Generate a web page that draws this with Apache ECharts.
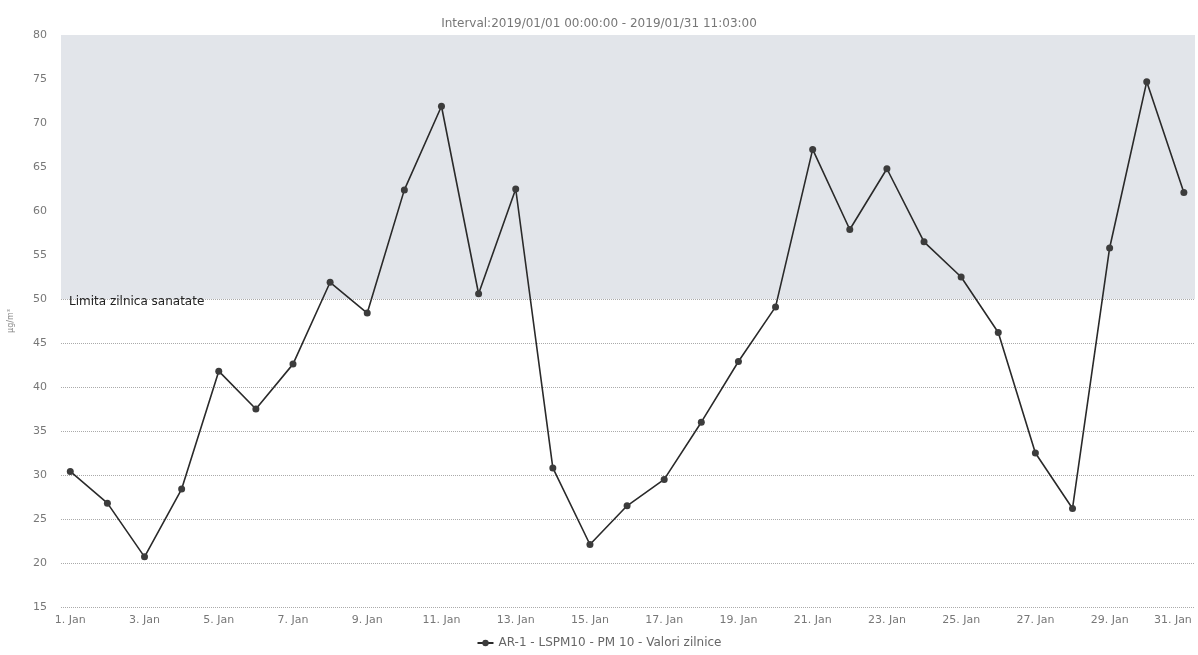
<!DOCTYPE html>
<html>
<head>
<meta charset="utf-8">
<script src="https://cdn.jsdelivr.net/npm/echarts@6/dist/echarts.min.js"></script>
<style>html,body{margin:0;padding:0;background:#fff}#c{width:1198px;height:655px}</style>
</head>
<body>
<div id="c"></div>
<script>
const days = [1,2,3,4,5,6,7,8,9,10,11,12,13,14,15,16,17,18,19,20,21,22,23,24,25,26,27,28,29,30,31];
const values = [30.4,26.8,20.7,28.4,41.8,37.5,42.6,51.9,48.4,62.4,71.9,50.6,62.5,30.8,22.1,26.5,29.5,36.0,42.9,49.1,67.0,57.9,64.8,56.5,52.5,46.2,32.5,26.2,55.8,74.7,62.1];
const tickDays = [1,3,5,7,9,11,13,15,17,19,21,23,25,27,29,31];
const monthLabel = 'Jan';
const limitLow = 50, limitHigh = 80;
const titleText = 'Interval:2019/01/01 00:00:00 - 2019/01/31 11:03:00';
const seriesName = 'AR-1 - LSPM10 - PM 10 - Valori zilnice';
const limitLabel = 'Limita zilnica sanatate';
const unitLabel = 'µg/m³';

const chart = echarts.init(document.getElementById('c'));
chart.setOption({
  backgroundColor: '#ffffff',
  animation: false,
  textStyle: { fontFamily: 'DejaVu Sans, sans-serif' },
  title: {
    text: titleText, left: 'center', top: 13,
    textStyle: { fontSize: 12, fontWeight: 'normal', color: '#777', fontFamily: 'DejaVu Sans' }
  },
  legend: {
    bottom: 1, left: 'center', itemWidth: 16, itemHeight: 8,
    textStyle: { fontSize: 12, color: '#666', fontFamily: 'DejaVu Sans' },
    data: [seriesName]
  },
  grid: { left: 61, right: 3, top: 35, bottom: 48, outerBoundsMode: 'none', containLabel: false },
  xAxis: {
    type: 'value', min: 0.75, max: 31.3,
    axisLine: { show: false }, axisTick: { show: false },
    splitLine: { show: false },
    axisLabel: {
      customValues: tickDays, fontSize: 11, color: '#777', margin: 8, fontFamily: 'DejaVu Sans',
      formatter: v => v === tickDays[tickDays.length - 1]
        ? '{last|' + v + '. ' + monthLabel + '}'
        : v + '. ' + monthLabel,
      rich: { last: { fontSize: 11, color: '#777', fontFamily: 'DejaVu Sans', padding: [0, 22, 0, 0] } }
    }
  },
  yAxis: {
    type: 'value', min: 15, max: 80, interval: 5,
    name: unitLabel, nameLocation: 'middle', nameGap: 46, nameRotate: 90,
    nameTextStyle: { fontSize: 8, color: '#888' },
    axisLine: { show: false }, axisTick: { show: false },
    axisLabel: { fontSize: 11, color: '#777', margin: 14, fontFamily: 'DejaVu Sans' },
    splitLine: { lineStyle: { type: 'dotted', color: '#aaa', width: 1 } }
  },
  series: [{
    name: seriesName, type: 'line',
    data: days.map((d, i) => [d, values[i]]),
    symbol: 'circle', symbolSize: 7,
    lineStyle: { color: '#2a2a2a', width: 1.6 },
    itemStyle: { color: '#3c3c3c' },
    markArea: {
      silent: true,
      itemStyle: { color: '#e2e5ea' },
      label: {
        show: true, position: [8, '100%'], verticalAlign: 'middle', offset: [0, 3],
        fontSize: 12, color: '#222', fontFamily: 'DejaVu Sans'
      },
      data: [[{ name: limitLabel, yAxis: limitLow }, { yAxis: limitHigh }]]
    }
  }]
});
</script>
</body>
</html>
